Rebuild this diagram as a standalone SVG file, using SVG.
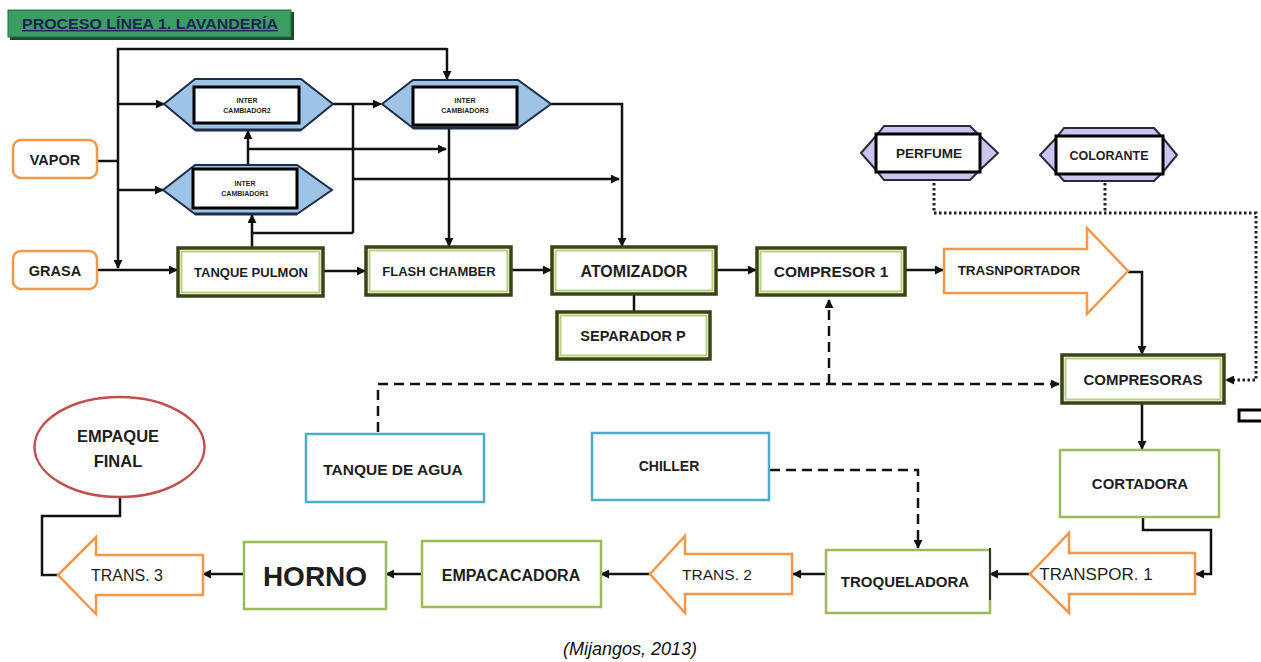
<svg xmlns="http://www.w3.org/2000/svg" width="1261" height="662" viewBox="0 0 1261 662">
<defs>
<marker id="ah" viewBox="0 0 10 10" refX="9" refY="5" markerWidth="9" markerHeight="9" markerUnits="userSpaceOnUse" orient="auto">
<path d="M0,0 L10,5 L0,10 z" fill="#111"/>
</marker>
<style>
text{font-family:"Liberation Sans",Arial,sans-serif;fill:#1e1e1e;text-anchor:middle}
.b{font-weight:bold}
.ln{fill:none;stroke:#111;stroke-width:2.5}
.dash{fill:none;stroke:#111;stroke-width:2.5;stroke-dasharray:10 6}
.dot{fill:none;stroke:#222;stroke-width:3;stroke-dasharray:2.5 2.5}
.org{fill:#fff;stroke:#f79646;stroke-width:2.5}
.gout{fill:#fff;stroke:#3a4314;stroke-width:3.5}
.gin{fill:none;stroke:#b9d07f;stroke-width:2}
.grn{fill:#fff;stroke:#9bbb59;stroke-width:2.5}
.teal{fill:#fff;stroke:#4bacc6;stroke-width:2.5}
.hexb{fill:#9dc3e6;stroke:#1d2c47;stroke-width:2}
.hexp{fill:#c9c4f0;stroke:#2a2a3a;stroke-width:2}
.inner{fill:#fff;stroke:#000;stroke-width:3}
.sm{font-size:7px;font-weight:bold}
</style>
</defs>

<g id="title">
<rect x="10" y="12" width="284" height="28" fill="#1e4a30"/>
<rect x="8" y="10" width="283" height="27" fill="#3a9e63" stroke="#2b6b44" stroke-width="1"/>
<text x="150" y="29" class="b" style="font-size:14px;fill:#1b2550;text-decoration:underline" textLength="256" lengthAdjust="spacingAndGlyphs">PROCESO LÍNEA 1. LAVANDERÍA</text>
</g>

<g id="connectors">
<polyline class="ln" points="447,49 118,49 118,268" marker-end="url(#ah)"/>
<line class="ln" x1="447" y1="48" x2="447" y2="79" marker-end="url(#ah)"/>
<line class="ln" x1="97" y1="161" x2="118" y2="161"/>
<line class="ln" x1="118" y1="104" x2="164" y2="104" marker-end="url(#ah)"/>
<line class="ln" x1="118" y1="190" x2="163" y2="190" marker-end="url(#ah)"/>
<line class="ln" x1="97" y1="270" x2="177" y2="270" marker-end="url(#ah)"/>
<line class="ln" x1="333" y1="104" x2="381" y2="104" marker-end="url(#ah)"/>
<line class="ln" x1="353" y1="104" x2="353" y2="233"/>
<polyline class="ln" points="252,248 252,233 353,233"/>
<line class="ln" x1="252" y1="233" x2="252" y2="215" marker-end="url(#ah)"/>
<line class="ln" x1="248" y1="165" x2="248" y2="131" marker-end="url(#ah)"/>
<line class="ln" x1="248" y1="149" x2="446" y2="149" marker-end="url(#ah)"/>
<line class="ln" x1="353" y1="179" x2="619" y2="179" marker-end="url(#ah)"/>
<line class="ln" x1="449" y1="128" x2="449" y2="246" marker-end="url(#ah)"/>
<polyline class="ln" points="551,104 622,104 622,246" marker-end="url(#ah)"/>
<line class="ln" x1="323" y1="271" x2="365" y2="271" marker-end="url(#ah)"/>
<line class="ln" x1="511" y1="270" x2="551" y2="270" marker-end="url(#ah)"/>
<line class="ln" x1="716" y1="270" x2="756" y2="270" marker-end="url(#ah)"/>
<line class="ln" x1="905" y1="270" x2="943" y2="270" marker-end="url(#ah)"/>
<line class="ln" x1="634" y1="294" x2="634" y2="312"/>
<polyline class="ln" points="1128,272 1142,272 1142,354" marker-end="url(#ah)"/>
<line class="ln" x1="1142" y1="404" x2="1142" y2="449" marker-end="url(#ah)"/>
<polyline class="ln" points="1143,517 1143,530 1211,530 1211,574 1196,574" marker-end="url(#ah)"/>
<line class="ln" x1="1030" y1="574" x2="990" y2="574" marker-end="url(#ah)"/>
<line class="ln" x1="826" y1="574" x2="793" y2="574" marker-end="url(#ah)"/>
<line class="ln" x1="650" y1="574" x2="601" y2="574" marker-end="url(#ah)"/>
<line class="ln" x1="422" y1="574" x2="386" y2="574" marker-end="url(#ah)"/>
<line class="ln" x1="244" y1="574" x2="203" y2="574" marker-end="url(#ah)"/>
<polyline class="ln" points="120,497 120,516 42,516 42,575 58,575"/>
<polyline class="dash" points="378,432 378,384 1059,384" marker-end="url(#ah)"/>
<line class="dash" x1="829" y1="384" x2="829" y2="300" marker-end="url(#ah)"/>
<polyline class="dash" points="770,470 918,470 918,548" marker-end="url(#ah)"/>
<polyline class="dot" points="934,178 934,213 1256,213 1256,380 1226,380" marker-end="url(#ah)"/>
<line class="dot" x1="1105" y1="178" x2="1105" y2="213"/>
</g>

<g id="vapor">
<rect class="org" x="13" y="140" width="84" height="38" rx="8"/>
<text x="55" y="165" class="b" style="font-size:14.5px">VAPOR</text>
</g>
<g id="grasa">
<rect class="org" x="13" y="251" width="84" height="38" rx="8"/>
<text x="55" y="276" class="b" style="font-size:14.5px">GRASA</text>
</g>

<g id="intercambiador2">
<polygon class="hexb" points="164,104 195,79 301,79 333,104 301,130 195,130"/>
<line x1="195" y1="130" x2="301" y2="130" stroke="#1d2c47" stroke-width="3"/>
<rect class="inner" x="194" y="87" width="105" height="36"/>
<text x="247" y="103" class="sm">INTER</text>
<text x="247" y="113" class="sm">CAMBIADOR2</text>
</g>
<g id="intercambiador3">
<polygon class="hexb" points="382,104 413,80 518,80 551,104 518,128 413,128"/>
<line x1="413" y1="128" x2="518" y2="128" stroke="#1d2c47" stroke-width="3"/>
<rect class="inner" x="413" y="87" width="104" height="38"/>
<text x="465" y="103" class="sm">INTER</text>
<text x="465" y="113" class="sm">CAMBIADOR3</text>
</g>
<g id="intercambiador1">
<polygon class="hexb" points="163,190 195,165 297,165 332,190 297,214 195,214"/>
<line x1="195" y1="214" x2="297" y2="214" stroke="#1d2c47" stroke-width="3"/>
<rect class="inner" x="193" y="169" width="104" height="39"/>
<text x="245" y="186" class="sm">INTER</text>
<text x="245" y="196" class="sm">CAMBIADOR1</text>
</g>

<g id="tanque-pulmon">
<rect class="gout" x="178" y="248" width="145" height="48"/>
<rect class="gin" x="181.5" y="251.5" width="138" height="41"/>
<text x="251" y="277" class="b" style="font-size:13px">TANQUE PULMON</text>
</g>
<g id="flash-chamber">
<rect class="gout" x="366" y="247" width="145" height="48"/>
<rect class="gin" x="369.5" y="250.5" width="138" height="41"/>
<text x="439" y="276" class="b" style="font-size:13px">FLASH CHAMBER</text>
</g>
<g id="atomizador">
<rect class="gout" x="552" y="247" width="164" height="47"/>
<rect class="gin" x="555.5" y="250.5" width="157" height="40"/>
<text x="634" y="277" class="b" style="font-size:16px">ATOMIZADOR</text>
</g>
<g id="separador">
<rect class="gout" x="557" y="312" width="153" height="47"/>
<rect class="gin" x="560.5" y="315.5" width="146" height="40"/>
<text x="633" y="341" class="b" style="font-size:14.5px">SEPARADOR P</text>
</g>
<g id="compresor1">
<rect class="gout" x="757" y="248" width="148" height="47"/>
<rect class="gin" x="760.5" y="251.5" width="141" height="40"/>
<text x="831" y="277" class="b" style="font-size:15.5px">COMPRESOR 1</text>
</g>
<g id="trasnportador">
<polygon class="org" points="944,249 1087,249 1087,228 1128,271 1087,314 1087,293 944,293"/>
<text x="1019" y="275" class="b" style="font-size:13.5px">TRASNPORTADOR</text>
</g>
<g id="perfume">
<polygon class="hexp" points="861,153 876,136 884,126 970,126 980,136 998,153 980,170 970,180 884,180 876,170"/>
<rect class="inner" x="876" y="134" width="104" height="38"/>
<text x="929" y="158" class="b" style="font-size:13.5px">PERFUME</text>
</g>
<g id="colorante">
<polygon class="hexp" points="1040,155 1056,138 1064,128 1154,128 1163,138 1177,155 1163,172 1154,181 1064,181 1056,172"/>
<rect class="inner" x="1056" y="136" width="107" height="38"/>
<text x="1109" y="160" class="b" style="font-size:12.5px">COLORANTE</text>
</g>
<g id="compresoras">
<rect class="gout" x="1062" y="355" width="162" height="48"/>
<rect class="gin" x="1065.5" y="358.5" width="155" height="41"/>
<text x="1143" y="385" class="b" style="font-size:15px">COMPRESORAS</text>
</g>
<g id="marca">
<rect x="1239" y="410" width="26" height="11" fill="#fff" stroke="#000" stroke-width="3"/>
</g>
<g id="cortadora">
<rect class="grn" x="1060" y="450" width="159" height="67"/>
<text x="1140" y="489" class="b" style="font-size:15px">CORTADORA</text>
</g>
<g id="transpor1">
<polygon class="org" points="1195,553 1069,553 1069,533 1030,574 1069,613 1069,594 1195,594"/>
<text x="1096" y="580" style="font-size:17px">TRANSPOR. 1</text>
</g>
<g id="troqueladora">
<rect class="grn" x="826" y="550" width="164" height="63"/>
<line x1="990" y1="548" x2="990" y2="600" stroke="#333" stroke-width="2"/>
<text x="905" y="587" class="b" style="font-size:15px">TROQUELADORA</text>
</g>
<g id="chiller">
<rect class="teal" x="592" y="433" width="177" height="67"/>
<text x="669" y="471" class="b" style="font-size:14px">CHILLER</text>
</g>
<g id="tanque-agua">
<rect class="teal" x="306" y="434" width="178" height="68"/>
<text x="393" y="475" class="b" style="font-size:15.5px">TANQUE DE AGUA</text>
</g>
<g id="trans2">
<polygon class="org" points="792,554 685,554 685,536 650,574 685,613 685,594 792,594"/>
<text x="717" y="580" style="font-size:15.5px">TRANS. 2</text>
</g>
<g id="empacacadora">
<rect class="grn" x="422" y="541" width="179" height="66"/>
<text x="511" y="581" class="b" style="font-size:16px">EMPACACADORA</text>
</g>
<g id="horno">
<rect class="grn" x="244" y="542" width="142" height="67"/>
<text x="315" y="586" class="b" style="font-size:28px">HORNO</text>
</g>
<g id="trans3">
<polygon class="org" points="203,555 96,555 96,537 58,575 96,614 96,595 203,595"/>
<text x="127" y="581" style="font-size:16px">TRANS. 3</text>
</g>
<g id="empaque-final">
<ellipse cx="119.5" cy="447" rx="85" ry="50" fill="#fff" stroke="#c0504d" stroke-width="2.5"/>
<text x="118" y="442" class="b" style="font-size:16.5px">EMPAQUE</text>
<text x="118" y="467" class="b" style="font-size:16.5px">FINAL</text>
</g>
<text x="630" y="655" style="font-size:18px;font-style:italic;fill:#111">(Mijangos, 2013)</text>
</svg>
